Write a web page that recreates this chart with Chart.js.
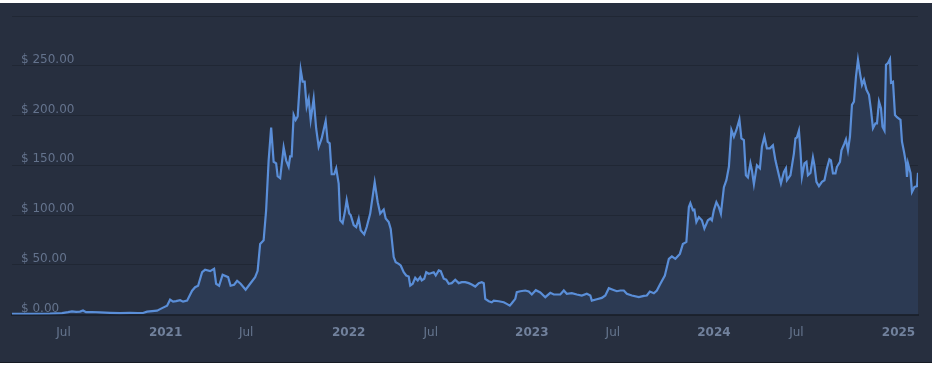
<!DOCTYPE html>
<html>
<head>
<meta charset="utf-8">
<script src="https://cdn.jsdelivr.net/npm/chart.js@4/dist/chart.umd.min.js"></script>
<style>
  html, body { margin: 0; padding: 0; background: #ffffff; }
  .card {
    width: 932px;
    height: 359px;
    margin-top: 3px;
    background: #272f3f;
    border-bottom: 1px solid #161b25;
  }
  canvas { display: block; }
</style>
</head>
<body>
<div class="card">
  <canvas id="priceChart" width="932" height="359"></canvas>
</div>
<script>
// position along the axis, in days from the left edge (early March 2020)
const dayIndex = [
  0, 36, 76, 100, 112, 120, 128, 136, 142, 148, 160, 176, 196, 216, 236, 252, 262, 270, 280, 290,
  296, 302, 310, 316, 322, 328, 336, 342, 350, 360, 366, 372, 380, 386, 396, 404, 408, 414, 421, 432,
  437, 444, 450, 457, 467, 476, 486, 491, 496, 503, 508, 513, 518, 523, 528, 531, 536, 543, 548, 553,
  556, 559, 563, 567, 571, 577, 581, 585, 589, 593, 597, 603, 608, 613, 619, 627, 631, 635, 639, 644,
  648, 653, 656, 661, 666, 669, 674, 677, 683, 688, 693, 697, 704, 709, 716, 725, 731, 736, 743, 747,
  753, 757, 763, 767, 773, 777, 783, 788, 793, 796, 801, 806, 811, 816, 819, 824, 828, 833, 837, 843,
  847, 853, 857, 863, 868, 873, 879, 886, 893, 899, 906, 913, 919, 926, 933, 939, 943, 946, 953, 959,
  963, 973, 983, 989, 995, 999, 1006, 1009, 1016, 1026, 1033, 1039, 1047, 1056, 1066, 1076, 1083, 1096, 1103, 1109,
  1119, 1129, 1139, 1149, 1156, 1159, 1169, 1179, 1186, 1193, 1201, 1209, 1216, 1223, 1229, 1239, 1253, 1263, 1269, 1275,
  1283, 1289, 1296, 1305, 1313, 1319, 1326, 1335, 1341, 1348, 1353, 1356, 1361, 1364, 1368, 1373, 1379, 1384, 1391, 1396,
  1399, 1403, 1408, 1413, 1417, 1423, 1428, 1433, 1438, 1443, 1448, 1454, 1458, 1463, 1467, 1471, 1476, 1479, 1483, 1489,
  1495, 1499, 1504, 1509, 1515, 1521, 1526, 1533, 1537, 1543, 1547, 1549, 1556, 1563, 1566, 1569, 1573, 1576, 1579, 1584,
  1588, 1591, 1596, 1601, 1604, 1608, 1613, 1619, 1624, 1629, 1634, 1637, 1641, 1646, 1649, 1655, 1658, 1664, 1667, 1671,
  1675, 1679, 1683, 1687, 1691, 1695, 1699, 1703, 1708, 1713, 1717, 1721, 1726, 1729, 1733, 1737, 1740, 1744, 1747, 1751,
  1755, 1757, 1761, 1765, 1769, 1776, 1779, 1783, 1787, 1789, 1791, 1796, 1799, 1804, 1809, 1811
];

const prices = [
  0.7, 0.8, 1.0, 1.5, 2.5, 3.3, 2.8, 3.0, 4.2, 2.5, 2.6, 2.2, 1.8, 1.5, 1.8, 1.6, 1.6, 3.0, 3.5, 4.0,
  5.5, 7, 9, 15, 13, 13.5, 14.5, 13, 14, 24, 27.5, 29, 42.6, 45, 43.7, 46, 31, 29, 40, 37.6,
  29, 30, 34, 31, 25, 31, 37.6, 44, 71, 74.6, 105, 155, 188, 153.5, 152, 139, 137, 168, 155, 148.5,
  159, 159, 200.6, 195.6, 199, 246, 234, 234, 209, 217, 195.6, 217, 187, 168.6, 177, 194.5, 173.7, 172, 141, 141,
  147, 131.7, 94.8, 92, 105, 115, 101.5, 100, 90, 88, 96.5, 84.7, 80.6, 88, 101.5, 133, 113, 101.5, 105.5, 96.5,
  93, 86, 57.8, 52.7, 51, 49.4, 42.6, 39.3, 38.3, 29.2, 31, 37, 34.3, 37.6, 34.3, 36, 42.6, 41, 41.6, 42.6,
  39.3, 44.4, 43.7, 36, 35, 31, 31.6, 35, 31.6, 32.6, 32.6, 31.6, 30.2, 28.2, 31.6, 32.6, 31.6, 15.8, 13.4, 12.4,
  14, 13.4, 12.4, 10.8, 9, 11.4, 15.8, 22.5, 23.5, 24.2, 23.2, 20.2, 24.5, 22.2, 17.5, 21.9, 20.2, 20.2, 24.2, 20.9,
  21.5, 20.2, 19.2, 20.9, 19.2, 14.1, 15.4, 16.8, 19.2, 26.5, 25, 23.5, 24.2, 24.2, 20.9, 19.2, 17.5, 18.8, 19.2, 23.2,
  21.5, 24.2, 31, 39.3, 56, 58.5, 56, 61, 71, 73, 108, 112, 105, 105.5, 93, 98, 94.8, 86.4, 94.8, 96.5,
  94.8, 105, 113, 108, 101.5, 128, 135, 148.5, 185.5, 178.7, 185.5, 196, 177, 175.4, 140, 137.8, 152, 145, 131, 150,
  147, 168.6, 178.7, 167, 167, 170, 155, 140, 131.7, 143.4, 147, 135, 140, 162, 177, 178, 184.8, 165, 138.4, 152,
  153.5, 140, 142.4, 158, 150, 133.4, 129, 133.4, 135, 147, 156, 155, 141.8, 141.8, 148.5, 153.5, 165, 172, 176, 165,
  178.7, 210.7, 214, 239, 256, 242.6, 230.8, 235.9, 225.8, 220.8, 205.6, 187.2, 192.2, 192.2, 214, 207.3, 188.8, 184.8, 251, 252.7,
  256.7, 233, 234, 200.6, 198.3, 195.6, 173.7, 163.6, 152, 138.4, 152, 142.4, 123.3, 128.3, 129, 142.4
];

const tickDays = [103, 307, 468, 673, 837, 1039, 1201, 1403, 1568, 1772];
const tickLabels = ['Jul', '2021', 'Jul', '2022', 'Jul', '2023', 'Jul', '2024', 'Jul', '2025'];
const yTicks = [0, 50, 100, 150, 200, 250, 300];

const isYear = (c) => !!c.tick && /^\d{4}$/.test(tickLabels[tickDays.indexOf(c.tick.value)] || '');

const ctx = document.getElementById('priceChart');
new Chart(ctx.getContext('2d'), {
  type: 'line',
  data: {
    datasets: [{
      data: dayIndex.map((d, i) => ({ x: d, y: prices[i] })),
      borderColor: '#5a8ed8',
      borderWidth: 2.2,
      backgroundColor: '#2c3a53',
      fill: 'origin',
      pointRadius: 0,
      tension: 0
    }]
  },
  options: {
    responsive: false,
    animation: false,
    layout: { padding: { left: 12, right: 14, top: 13, bottom: 11 } },
    plugins: {
      legend: { display: false },
      tooltip: { enabled: false }
    },
    scales: {
      x: {
        type: 'linear',
        min: 0,
        max: 1811,
        grid: { display: false, drawTicks: false },
        border: { display: true, color: '#1b212c', width: 2 },
        afterBuildTicks: (scale) => { scale.ticks = tickDays.map(v => ({ value: v })); },
        ticks: {
          autoSkip: false,
          maxRotation: 0,
          padding: 11,
          color: (c) => isYear(c) ? '#71819c' : '#66768f',
          font: (c) => ({
            family: '"DejaVu Sans", Verdana, sans-serif',
            size: 12,
            weight: isYear(c) ? 'bold' : 'normal'
          }),
          callback: (v) => tickLabels[tickDays.indexOf(v)] || ''
        }
      },
      y: {
        min: 0,
        max: 300,
        afterFit: (scale) => {
          scale.width = 0;
          scale.paddingTop = 0;
          scale.paddingBottom = 0;
        },
        grid: { color: 'rgba(0,0,0,0.16)', drawTicks: false },
        border: { display: false },
        afterBuildTicks: (scale) => { scale.ticks = yTicks.map(v => ({ value: v })); },
        ticks: {
          mirror: true,
          padding: 9,
          labelOffset: -6,
          color: '#64738d',
          font: { family: '"DejaVu Sans", Verdana, sans-serif', size: 12 },
          callback: (v) => v === 300 ? '' : '$ ' + v.toFixed(2)
        }
      }
    }
  }
});
</script>
</body>
</html>
